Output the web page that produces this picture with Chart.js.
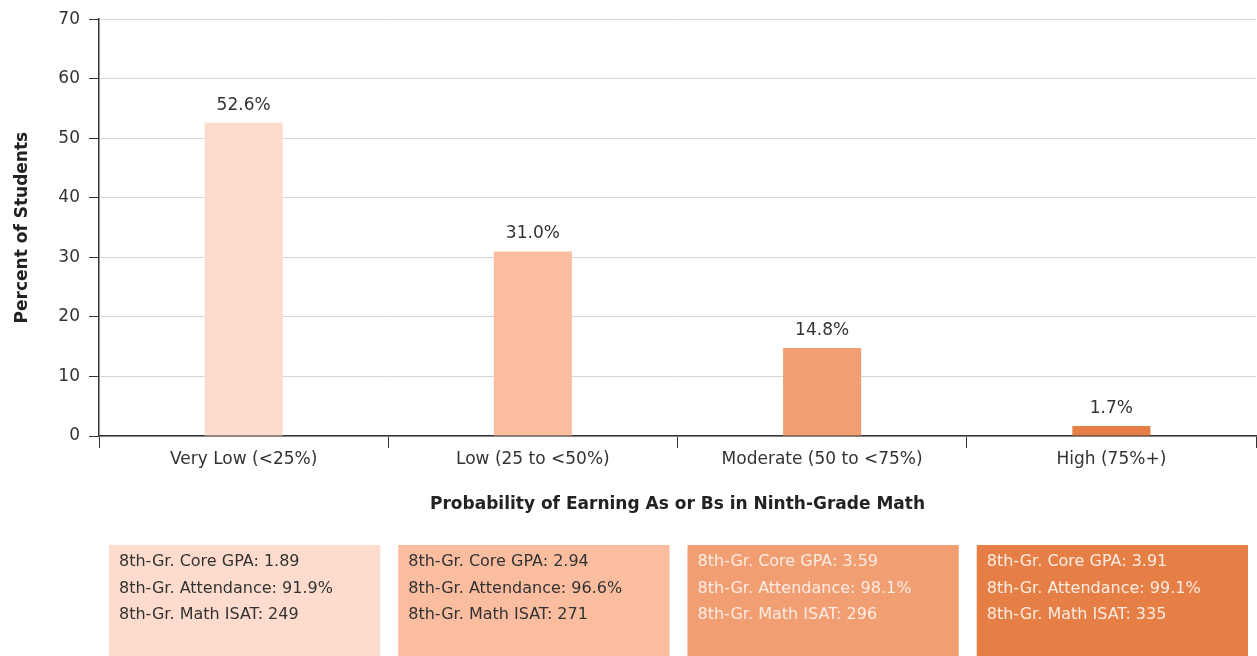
<!DOCTYPE html>
<html>
<head>
<meta charset="utf-8">
<script src="https://cdn.jsdelivr.net/npm/chart.js@4"></script>
<style>
    html, body { margin: 0; padding: 0; background: #fff; }
    #wrap { width: 1257px; height: 656px; position: relative; }
</style>
</head>
<body>
<div id="wrap"><canvas id="gradesChart"></canvas></div>
<script>
// data
const categories = ['Very Low (<25%)', 'Low (25 to <50%)', 'Moderate (50 to <75%)', 'High (75%+)'];
const percentStudents = [52.6, 31.0, 14.8, 1.7];
const coreGpa = ['1.89', '2.94', '3.59', '3.91'];
const attendance = ['91.9%', '96.6%', '98.1%', '99.1%'];
const mathIsat = ['249', '271', '296', '335'];
const yMin = 0, yMax = 70, yStep = 10;

const barColors = ['#FDDCCD', '#FABDA0', '#F29E73', '#E67F45'];
const boxTextColors = ['#333333', '#333333', '#FCEDE4', '#FCEDE4'];
const FONT = '"DejaVu Sans", sans-serif';

// value labels above bars + the profile boxes under the axis title
const labelsAndBoxes = {
    id: 'labelsAndBoxes',
    afterDatasetsDraw(chart) {
        const ctx = chart.ctx;
        const meta = chart.getDatasetMeta(0);
        ctx.save();
        ctx.font = '17px ' + FONT;
        ctx.fillStyle = '#333333';
        ctx.textAlign = 'center';
        ctx.textBaseline = 'alphabetic';
        meta.data.forEach((bar, i) => {
            ctx.fillText(percentStudents[i].toFixed(1) + '%', bar.x, bar.y - 13);
        });

        const x = chart.scales.x;
        const half = (x.getPixelForTick(1) - x.getPixelForTick(0)) / 2;
        const boxTop = 545;
        categories.forEach((cat, i) => {
            const cx = x.getPixelForTick(i);
            const left = cx - half + 10;
            const right = cx + half - 8;
            ctx.fillStyle = barColors[i];
            ctx.fillRect(left, boxTop, right - left, chart.height - boxTop);
            ctx.fillStyle = boxTextColors[i];
            ctx.textAlign = 'left';
            ctx.font = '16px ' + FONT;
            ctx.fillText('8th-Gr. Core GPA: ' + coreGpa[i], left + 10, boxTop + 21);
            ctx.fillText('8th-Gr. Attendance: ' + attendance[i], left + 10, boxTop + 48);
            ctx.fillText('8th-Gr. Math ISAT: ' + mathIsat[i], left + 10, boxTop + 74);
        });
        ctx.restore();
    }
};

new Chart(document.getElementById('gradesChart'), {
    type: 'bar',
    data: {
        labels: categories,
        datasets: [{
            data: percentStudents,
            backgroundColor: barColors,
            borderWidth: 0,
            barPercentage: 0.9,
            categoryPercentage: 0.3
        }]
    },
    options: {
        responsive: true,
        maintainAspectRatio: false,
        animation: false,
        layout: { padding: { top: 19, right: 1, bottom: 0, left: 0 } },
        plugins: {
            legend: { display: false },
            tooltip: { enabled: false }
        },
        scales: {
            x: {
                afterFit: (scale) => { scale.height = 220; },
                grid: { offset: true, drawOnChartArea: false, tickLength: 12, color: '#333333' },
                border: { color: '#333333', width: 1.5 },
                ticks: { color: '#333333', padding: 1, font: { family: FONT, size: 17 } },
                title: {
                    display: true,
                    text: 'Probability of Earning As or Bs in Ninth-Grade Math',
                    color: '#222222',
                    font: { family: FONT, size: 17, weight: 'bold' },
                    padding: { top: 0, bottom: 141 }
                }
            },
            y: {
                min: yMin,
                max: yMax,
                afterFit: (scale) => { scale.width = 99; },
                grid: { color: '#D6D6D6', tickColor: '#333333', tickLength: 10 },
                border: { color: '#333333', width: 1.5 },
                ticks: { stepSize: yStep, color: '#333333', padding: 9, font: { family: FONT, size: 17 } },
                title: {
                    display: true,
                    text: 'Percent of Students',
                    color: '#222222',
                    font: { family: FONT, size: 17, weight: 'bold' },
                    padding: { top: 12, bottom: 0 }
                }
            }
        }
    },
    plugins: [labelsAndBoxes]
});
</script>
</body>
</html>
